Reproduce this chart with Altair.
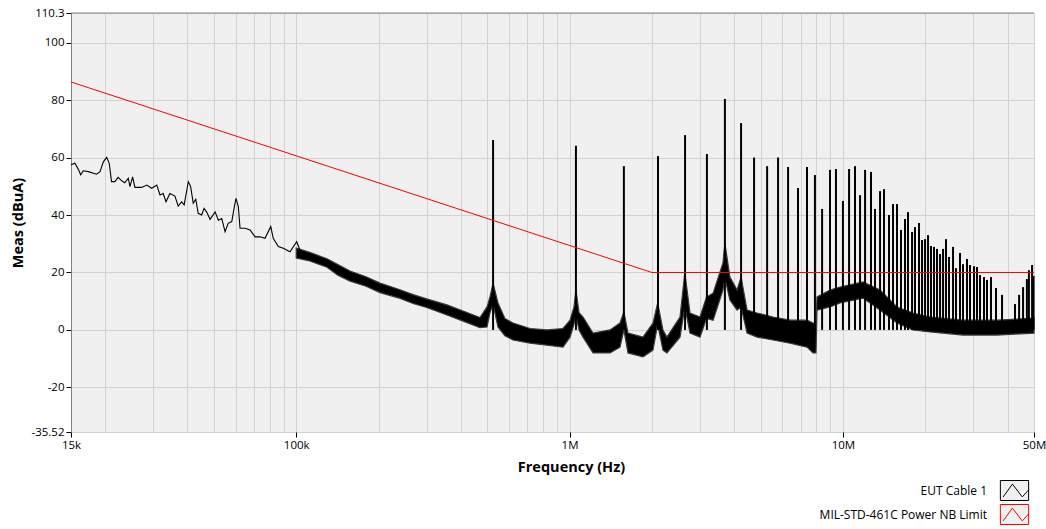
import altair as alt
import pandas as pd

# ---------------- data ----------------
# thin low-frequency part of the EUT trace (Hz, dBuA)
trace_freq = [15000, 15500, 15950, 16280, 16630, 17360, 18600, 19150, 19700, 20260,
              20700, 21100, 21700, 22300, 23000, 23600, 24300, 24650, 25200, 25700,
              27200, 28400, 29600, 30900, 31750, 32600, 33400, 34500, 36000, 37000,
              38100, 38900, 39800, 40300, 41100, 42000, 42900, 43800, 45100, 46000,
              47000, 48400, 50500, 51900, 53400, 54900, 56400, 58100, 59400, 60200,
              61400, 62300, 65000, 67800, 70700, 73700, 76900, 80700, 82400, 86000,
              89700, 94900, 100400, 103200]
trace_db = [57.5, 58.0, 55.9, 54.0, 55.4, 55.1, 54.2, 55.1, 58.5, 60.1,
            58.0, 51.6, 51.6, 53.1, 51.9, 51.2, 52.8, 49.9, 53.3, 49.6,
            49.6, 50.4, 49.3, 50.4, 47.0, 47.5, 44.6, 47.5, 46.6, 43.1,
            44.6, 43.5, 48.7, 51.6, 49.9, 44.1, 45.5, 40.6, 40.0, 42.3,
            41.1, 38.5, 41.1, 38.2, 38.8, 34.2, 37.1, 37.7, 42.9, 45.8,
            42.9, 35.4, 35.4, 34.8, 32.4, 32.4, 31.9, 36.0, 31.9, 29.0,
            28.4, 27.2, 30.7, 27.8]

# dense noisy part of the EUT trace: upper / lower envelope (Hz, dBuA)
band_freq = [100000, 112000, 129600, 142000, 157300, 180000, 202500, 239700, 267500, 300000,
             356100, 410000, 470200, 498800, 511500, 525000, 547000, 580000, 621000, 717000,
             827000, 946000, 1004000, 1038000, 1055000, 1083000, 1120000, 1218000, 1406000, 1529000,
             1580000, 1636000, 1856000, 2019000, 2100000, 2196000, 2270000, 2535000, 2640000, 2758000,
             3000000, 3170000, 3350000, 3640000, 3700000, 3860000, 4100000, 4240000, 4460000, 4850000,
             5550000, 6400000, 7390000, 7770000, 7970000, 8040000, 8970000, 9760000, 11840000, 13670000,
             15770000, 18050000, 20830000, 27500000, 36600000, 50000000]
band_hi = [28.5, 27.0, 24.8, 22.8, 20.5, 18.5, 16.3, 14.0, 12.3, 10.8,
           8.7, 6.5, 4.3, 8.0, 11.5, 16.3, 9.4, 4.0, 2.4, 0.5,
           0.0, 0.5, 3.4, 8.0, 13.9, 6.0, 4.5, -1.1, 0.0, 2.4,
           6.2, -1.1, -2.5, 2.4, 9.4, 0.0, -2.5, 4.5, 20.0, 5.9,
           4.5, 11.5, 12.8, 23.3, 30.2, 18.4, 13.9, 18.4, 6.9, 5.9,
           4.5, 3.4, 3.4, 2.4, 2.4, 11.5, 13.9, 14.9, 16.7, 13.9,
           8.0, 5.9, 4.5, 3.4, 3.4, 4.1]
band_lo = [25.0, 24.0, 21.8, 19.0, 17.0, 15.2, 13.0, 11.0, 9.2, 7.8,
           5.2, 3.0, 0.8, 1.0, 6.0, 9.0, 1.0, -2.0, -3.5, -4.6,
           -5.3, -6.0, -2.5, 2.0, 5.0, 0.0, -2.5, -8.0, -8.0, -6.0,
           0.0, -8.0, -9.4, -7.0, 2.0, -7.0, -8.0, -2.5, 8.0, -1.1,
           -2.5, 4.0, 3.4, 13.9, 18.0, 10.4, 6.9, 8.0, -1.1, -2.5,
           -3.5, -4.6, -6.0, -8.0, -8.0, 6.9, 8.0, 9.4, 11.1, 6.9,
           2.4, 0.0, -0.7, -1.8, -1.8, -1.1]

# narrowband spikes (Hz, peak dBuA)
spike_freq = [525000, 1055000, 1580000, 2106000, 2645000, 3180000, 3700000, 4240000, 4730000, 5280000,
              5790000, 6300000, 6850000, 7390000, 7900000, 8390000, 8970000, 9430000, 10000000, 10530000,
              11070000, 11550000, 12050000, 12670000, 13100000, 13670000, 14130000, 14740000, 15250000, 15770000,
              16310000, 16870000, 17300000, 17900000, 18350000, 18980000, 19470000, 19970000, 20480000, 21000000,
              21540000, 22090000, 22660000, 23240000, 23830000, 24440000, 25280000, 25920000, 26810000, 27500000,
              28440000, 29170000, 30170000, 30940000, 31730000, 32820000, 33660000, 34810000, 36300000, 38200000,
              42600000, 44100000, 45600000, 47100000, 47900000, 49200000, 49800000]
spike_db = [66.1, 64.1, 57.0, 60.5, 67.8, 61.2, 80.4, 72.0, 60.0, 57.0,
            60.0, 56.7, 49.4, 56.7, 53.9, 42.1, 55.7, 56.0, 44.9, 56.0,
            57.0, 46.9, 55.7, 55.0, 42.1, 48.3, 49.0, 40.0, 43.8, 43.8,
            34.8, 38.6, 41.0, 34.1, 35.8, 37.2, 31.3, 31.6, 33.0, 29.2,
            28.9, 28.2, 26.4, 28.2, 31.6, 25.4, 28.9, 21.5, 26.8, 22.9,
            24.7, 22.6, 22.2, 21.9, 19.1, 18.4, 17.4, 18.4, 14.6, 12.2,
            9.0, 12.2, 14.9, 17.7, 20.8, 22.6, 18.8]

# MIL-STD-461C limit
limit_freq = [15000, 2000000, 50000000]
limit_db = [86.3, 20.0, 20.0]

series_names = ["EUT Cable 1", "MIL-STD-461C Power NB Limit"]
series_colors = ["#000000", "#ff0000"]

# axis ticks / labels
x_grid_values = [15000, 20000, 30000, 40000, 50000, 60000, 70000, 80000, 90000,
                 100000, 200000, 300000, 400000, 500000, 600000, 700000, 800000, 900000,
                 1000000, 2000000, 3000000, 4000000, 5000000, 6000000, 7000000, 8000000, 9000000,
                 10000000, 20000000, 30000000, 40000000, 50000000]
x_label_values = [15000, 100000, 1000000, 10000000, 50000000]
x_label_texts = ["15k", "100k", "1M", "10M", "50M"]
y_tick_values = [110.3, 100, 80, 60, 40, 20, 0, -20, -35.52]

# ---------------- frames ----------------
trace_df = pd.DataFrame({"freq": trace_freq, "db": trace_db, "series": series_names[0]})
band_df = pd.DataFrame({"freq": band_freq, "hi": band_hi, "lo": band_lo})
spike_df = pd.DataFrame({"freq": spike_freq, "db": spike_db})
limit_df = pd.DataFrame({"freq": limit_freq, "db": limit_db, "series": series_names[1]})

FONT = "Open Sans"
xscale = alt.Scale(type="log", domain=[15000, 50000000], nice=False)
yscale = alt.Scale(domain=[-35.52, 110.3], nice=False, zero=False)

label_expr = " : ".join(
    f"datum.value == {v} ? '{t}'" for v, t in zip(x_label_values, x_label_texts)
) + " : ''"
tick_test = " || ".join(f"datum.value == {v}" for v in x_label_values)

xaxis = alt.Axis(
    values=x_grid_values, labelExpr=label_expr, labelFlush=False, labelOverlap=False,
    grid=True, gridColor="#d2d2d2", gridWidth=1, domain=False,
    tickColor="black", tickSize=5,
    tickOpacity={"condition": {"test": tick_test, "value": 1}, "value": 0},
    labelFontSize=11.5, labelPadding=2,
    title="Frequency (Hz)", titleFontSize=14.5, titleFontWeight="bold",
    titleX=500, titleY=35, titleBaseline="middle", titleAlign="center",
)
yaxis = alt.Axis(
    values=y_tick_values, labelExpr="'' + datum.value", labelOverlap=False, labelFlush=False,
    grid=True, gridColor="#d2d2d2", gridWidth=1,
    domainColor="#808080", tickColor="black", tickSize=5,
    labelFontSize=11.5, labelPadding=2,
    title="Meas (dBuA)", titleFontSize=14.5, titleFontWeight="bold",
    titleAngle=270, titleX=-53, titleY=209.5, titleBaseline="middle", titleAlign="center",
)

legend = alt.Legend(
    title=None, orient="none", legendX=933, legendY=467, padding=0,
    symbolType="M-1.414,-1H1.414V1H-1.414Z M-1.13,0.64L-0.21,-0.64L0.78,0.64L1.414,-0.07",
    symbolSize=400, symbolStrokeWidth=1, symbolFillColor="#f0f0f0",
    labelAlign="right", labelOffset={"expr": "-38"}, labelFontSize=12, labelFont=FONT,
    labelColor="black", labelLimit=400, rowPadding={"expr": "-1"},
)
color = alt.Color("series:N", scale=alt.Scale(domain=series_names, range=series_colors), legend=legend)

X = lambda: alt.X("freq:Q", scale=xscale, axis=xaxis)

band = alt.Chart(band_df).mark_area(color="black", stroke="#3a3a3a", strokeWidth=1.2).encode(
    x=X(),
    y=alt.Y("hi:Q", scale=yscale, axis=yaxis),
    y2="lo:Q",
)
spikes = alt.Chart(spike_df).mark_rule(color="black", strokeWidth=2).encode(
    x=X(),
    y=alt.Y("db:Q", scale=yscale, axis=yaxis),
    y2=alt.datum(0),
)
trace = alt.Chart(trace_df).mark_line(strokeWidth=1.1).encode(
    x=X(),
    y=alt.Y("db:Q", scale=yscale, axis=yaxis),
    color=color,
)
limit = alt.Chart(limit_df).mark_line(strokeWidth=1).encode(
    x=X(),
    y=alt.Y("db:Q", scale=yscale, axis=yaxis),
    color=color,
)
top_border = alt.Chart(pd.DataFrame({"a": [0]})).mark_rule(color="#808080", strokeWidth=1).encode(
    x=alt.value(0), x2=alt.value(963), y=alt.value(0)
)

chart = alt.layer(band, spikes, trace, limit, top_border).properties(
    width=963, height=419,
    autosize=alt.AutoSizeParams(type="none"),
    padding={"left": 71, "top": 13, "right": 12, "bottom": 97},
    background="white",
).configure_view(stroke=None, fill="#f0f0f0").configure_axis(
    labelFont=FONT, titleFont=FONT, labelColor="black", titleColor="black"
)

chart.save("out.html", embed_options={"renderer": "svg", "actions": False})
